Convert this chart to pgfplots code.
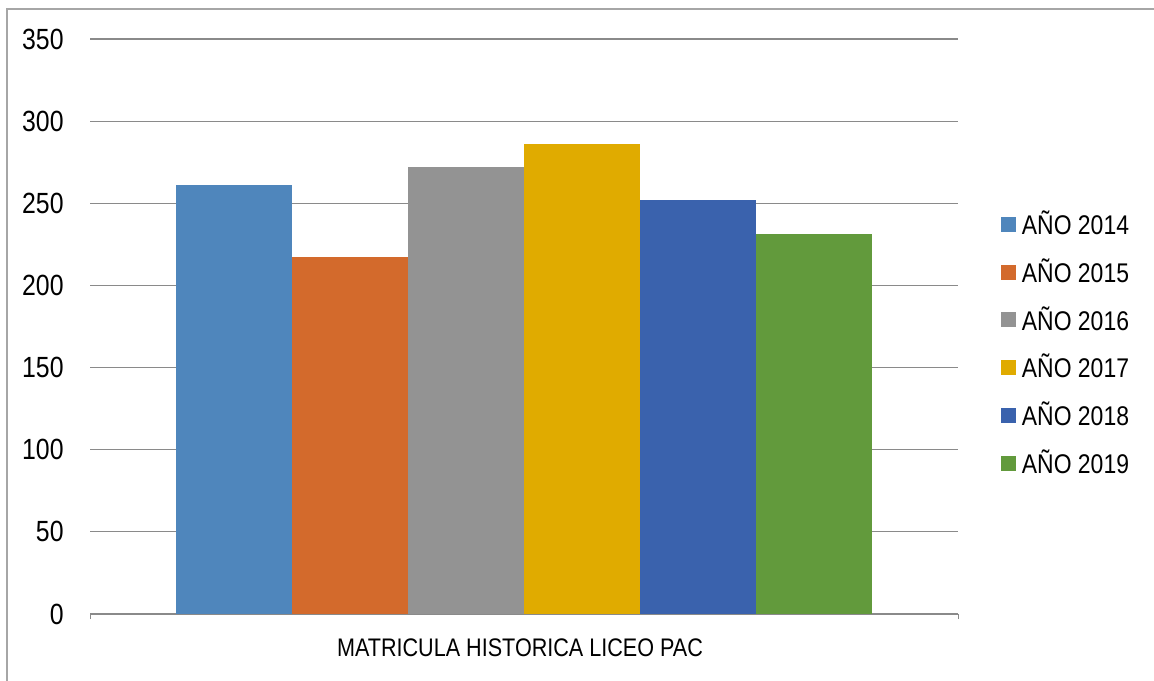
\documentclass[border=0pt]{standalone}
\usepackage{fontspec}
\setmainfont{Liberation Sans}[FakeStretch=0.85]
\usepackage{pgfplots}
\pgfplotsset{compat=1.18}

\definecolor{c14}{HTML}{4F86BC}
\definecolor{c15}{HTML}{D36A2C}
\definecolor{c16}{HTML}{939393}
\definecolor{c17}{HTML}{E0AB00}
\definecolor{c18}{HTML}{3A62AD}
\definecolor{c19}{HTML}{629A3C}
\definecolor{gridc}{HTML}{8A8A8A}

\begin{document}
\begin{tikzpicture}
\useasboundingbox (0,0) rectangle (577pt,340pt);
% marco exterior
\draw[gray!70, line width=1pt] (3.5pt,-1pt) -- (3.5pt,335.5pt) -- (578pt,335.5pt);
\begin{axis}[
    at={(45pt,33pt)}, anchor=south west,
    scale only axis,
    width=434pt, height=287.5pt,
    ybar=0pt, bar width=58pt,
    xmin=-3.741, xmax=3.741,
    ymin=0, ymax=350,
    ytick={0,50,...,350},
    xtick=\empty,
    extra x ticks={-3.741,3.741},
    extra x tick labels={},
    extra x tick style={major tick length=2.5pt, tick align=outside, tick style={gridc, line width=0.5pt}},
    ymajorgrids,
    grid style={gridc, line width=0.6pt},
    axis x line*=bottom,
    axis y line*=left,
    y axis line style={draw=none},
    x axis line style={gridc, line width=0.8pt, -},
    major tick length=0pt,
    /pgf/number format/assume math mode=true,
    yticklabel style={font=\fontsize{14.6}{16}\selectfont, anchor=east, inner sep=0pt, xshift=-13pt},
    xlabel={MATRICULA HISTORICA LICEO PAC},
    xlabel style={font=\fontsize{12.7}{15}\selectfont, at={(axis description cs:0.5,0)}, anchor=north, yshift=-9pt, xshift=-2pt},
    legend style={draw=none, fill=none, at={(1.042,0.47)}, anchor=west,
        font=\fontsize{13.5}{15}\selectfont, row sep=6.5pt,
        /tikz/every odd column/.append style={column sep=1pt}},
    legend cell align=left,
    legend image code/.code={\fill[#1] (0pt,-3.75pt) rectangle (7.5pt,3.75pt);},
]
\addplot[fill=c14, draw=none] coordinates {(0,261)};
\addlegendentry{AÑO 2014}
\addplot[fill=c15, draw=none] coordinates {(0,217)};
\addlegendentry{AÑO 2015}
\addplot[fill=c16, draw=none] coordinates {(0,272)};
\addlegendentry{AÑO 2016}
\addplot[fill=c17, draw=none] coordinates {(0,286)};
\addlegendentry{AÑO 2017}
\addplot[fill=c18, draw=none] coordinates {(0,252)};
\addlegendentry{AÑO 2018}
\addplot[fill=c19, draw=none] coordinates {(0,231)};
\addlegendentry{AÑO 2019}
\end{axis}
\end{tikzpicture}
\end{document}
